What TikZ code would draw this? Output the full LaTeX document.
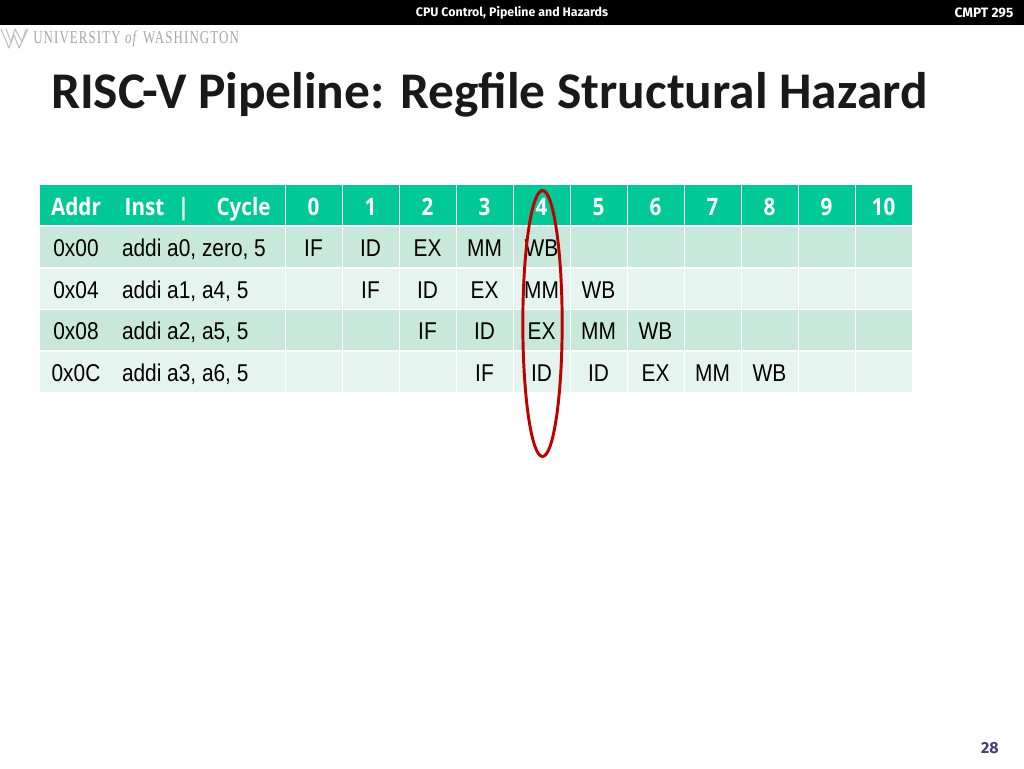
\documentclass[tikz,border=0pt]{standalone}
\usepackage{fontspec}
\setmainfont{Liberation Sans}
\newfontfamily\titlefont{Carlito}
\newfontfamily\headfont{Fira Sans}
\newfontfamily\cellfont[FakeStretch=0.86]{Liberation Sans}
\newfontfamily\headcellfont[FakeStretch=0.86]{Open Sans}
\newfontfamily\logofont[FakeStretch=0.72,LetterSpace=6]{Liberation Serif}
\usetikzlibrary{shapes.geometric}
\definecolor{headgreen}{HTML}{00C896}
\definecolor{rowdark}{HTML}{C8E8DC}
\definecolor{rowlight}{HTML}{E6F4EF}
\definecolor{hazardred}{HTML}{C00000}
\definecolor{pagepurple}{HTML}{4B3A7C}
\tikzset{
  cellbox/.style={inner sep=0pt,outer sep=0pt,text=black,text height=14pt,text depth=0pt,
    font=\cellfont\fontsize{18.2}{20}\selectfont},
  headbox/.style={cellbox,fill=headgreen,text=white,text height=15.5pt,font=\headcellfont\bfseries\fontsize{18}{20}\selectfont},
  headlabel/.style={inner sep=0pt,text=white,text height=15.5pt,text depth=0pt,font=\headcellfont\bfseries\fontsize{18}{20}\selectfont},
  barlabel/.style={text=white,inner sep=0pt,font=\headfont\bfseries\fontsize{9.3}{11}\selectfont}
}
\begin{document}
\begin{tikzpicture}[x=0.75pt,y=-0.75pt]
  \useasboundingbox (0,0) rectangle (1024,768);
  \fill[white] (0,0) rectangle (1024,768);
  % top bar and logo
  \fill[black] (0,0) rectangle (1024,25);
  \node[barlabel] (bartitle) at (512,12.5) {CPU Control, Pipeline and Hazards};
  \node[barlabel,font=\headfont\bfseries\fontsize{10.2}{11}\selectfont] (barcourse) at (984,12.5) {CMPT 295};
  \draw[black!25,line width=0.8pt,line join=round]
    (1,29) -- (9,48) -- (14,35) -- (19,48) -- (28,29);
  \draw[black!25,line width=0.8pt,line join=round]
    (6,29) -- (11,42) -- (15,29) -- (22,42) -- (26,29);
  \node[text=black!35,inner sep=0pt,anchor=base west,font=\logofont\fontsize{13.5}{15}\selectfont] (logotext)
    at (33,43.5) {UNIVERSITY \textit{of} WASHINGTON};
  % title
  \node[anchor=base west,inner sep=0pt,text=black!90,font=\titlefont\bfseries\fontsize{38.6}{44}\selectfont] (slidetitle)
    at (51,108) {RISC-V Pipeline: Regfile Structural Hazard};
  % header row
  \node[headbox,minimum width=53.6pt,minimum height=30pt] (addrhead) at (76,205) {Addr};
  \node[headbox,minimum width=129.5pt,minimum height=30pt] (insthead) at (198.5,205) {};
  \node[headlabel] (instlabel) at (144.5,205) {Inst};
  \node[headlabel] (sepmark) at (183.5,205) {|};
  \node[headlabel] (cyclelabel) at (243.5,205) {Cycle};
  \foreach \c in {0,...,10}
    \node[headbox,minimum width=42pt,minimum height=30pt] (head\c) at (313.5+57*\c,205) {\c};
  % rows: number, y, colour, addr, inst, cells
  \foreach \r/\y/\shade/\addr/\inst/\cells in {
    0/247/rowdark/0x00/{addi a0, zero, 5}/{IF,ID,EX,MM,WB,,,,,,},
    1/289/rowlight/0x04/{addi a1, a4, 5}/{,IF,ID,EX,MM,WB,,,,,},
    2/330/rowdark/0x08/{addi a2, a5, 5}/{,,IF,ID,EX,MM,WB,,,,},
    3/372/rowlight/0x0C/{addi a3, a6, 5}/{,,,IF,ID,ID,EX,MM,WB,,}} {
    \node[cellbox,fill=\shade,minimum width=53.6pt,minimum height=30pt] (addr\r) at (76,\y) {\addr};
    \node[cellbox,fill=\shade,minimum width=129.5pt,minimum height=30pt] (instbox\r) at (198.5,\y) {};
    \node[cellbox,anchor=west] (inst\r) at (122,\y) {\inst};
    \foreach \t [count=\c from 0] in \cells
      \node[cellbox,fill=\shade,minimum width=42pt,minimum height=30pt] (cell\r-\c) at (313.5+57*\c,\y) {\t};
  }
  % hazard marker
  \node[ellipse,draw=hazardred,line width=2.2pt,inner sep=0pt,minimum width=29.5pt,minimum height=199.5pt] (hazard) at (542.5,323.5) {};
  \node[anchor=east,inner sep=0pt,text=pagepurple,font=\headfont\bfseries\fontsize{12}{14}\selectfont] (pagenum) at (999,748) {28};
\end{tikzpicture}
\end{document}
